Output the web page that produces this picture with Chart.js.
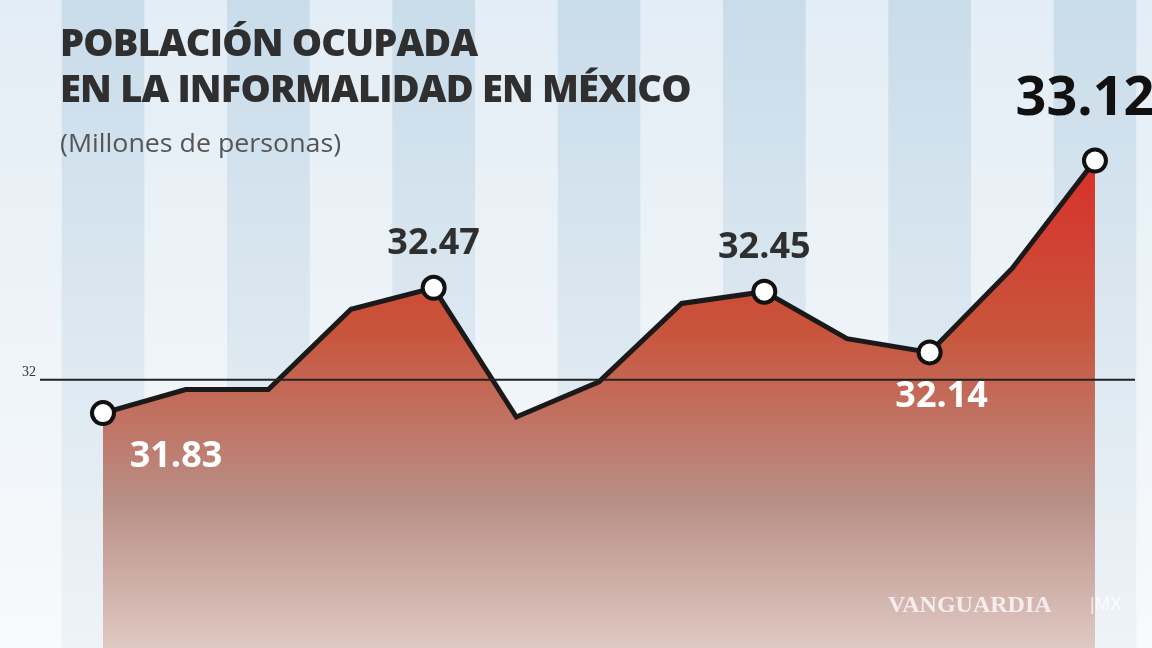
<!DOCTYPE html>
<html><head><meta charset="utf-8">
<script src="https://cdn.jsdelivr.net/npm/chart.js@4/dist/chart.umd.min.js"></script>
<style>html,body{margin:0;padding:0;background:#fff;overflow:hidden}
#wrap{position:relative;width:1152px;height:648px}
.t{position:absolute;left:60px;font-family:"Open Sans",sans-serif;font-weight:800;color:#2f2f2f;font-size:37px;letter-spacing:-0.8px;transform:scaleX(1.03);transform-origin:left}
</style></head><body>
<div id="wrap"><canvas id="c" width="1152" height="648"></canvas>
<div class="t" style="top:16px">POBLACIÓN OCUPADA</div>
<div class="t" style="top:62px">EN LA INFORMALIDAD EN MÉXICO</div>
<div class="t" style="top:124px;font-weight:400;font-size:26px;color:#555;letter-spacing:0">(Millones de personas)</div>
</div>
<script>
const periods=[0,1,2,3,4,5,6,7,8,9,10,11,12];
const values=[31.83,31.95,31.95,32.36,32.47,31.81,31.99,32.39,32.45,32.21,32.14,32.57,33.12];
const labeled=[0,4,8,10,12];
const refValue=32;
const labelStyle={0:['#fff',0,1,36],4:['#2f2f2f',0,-1,36],8:['#2f2f2f',0,-1,36],10:['#fff',0,1,36],12:['#111',0,-1,54]};
const bgPlugin={id:'bg',beforeDatasetsDraw(ch){const {ctx,scales:{x,y}}=ch;ctx.save();
 const g=ctx.createLinearGradient(0,0,0,648);g.addColorStop(0,'#c9dcea');g.addColorStop(1,'#eef3f7');
 const g2=ctx.createLinearGradient(0,0,0,648);g2.addColorStop(0,'#e3edf5');g2.addColorStop(1,'#f8fafc');
 for(let i=-1;i<=13;i++){const l=x.getPixelForValue(i-0.5),r=x.getPixelForValue(i+0.5);ctx.fillStyle=(i%2===0)?g:g2;ctx.fillRect(l,0,r-l+1,648);}
 ctx.restore();},
 afterDatasetsDraw(ch){const {ctx,scales:{x,y}}=ch;ctx.save();
 const py=y.getPixelForValue(refValue);ctx.strokeStyle='#222';ctx.lineWidth=2;ctx.beginPath();ctx.moveTo(40,py);ctx.lineTo(1135,py);ctx.stroke();
 ctx.fillStyle='#333';ctx.font='14px "Liberation Serif"';ctx.textAlign='left';ctx.fillText('32',22,py-4);
 const m=ch.getDatasetMeta(1);
 labeled.forEach(i=>{const p=m.data[i];const s=labelStyle[i];ctx.fillStyle=s[0];ctx.font='bold '+s[3]+'px "Open Sans"';ctx.textAlign='center';ctx.textBaseline=s[2]>0?'top':'bottom';
  let xx=p.x+(i===0?73:i===12?-10:0)+(i===10?12:0);ctx.fillText(values[i].toFixed(2),xx,p.y+s[2]*(i===12?34:26));});
 ctx.font='bold 24px "Liberation Serif"';ctx.fillStyle='rgba(255,255,255,0.75)';ctx.textAlign='left';ctx.textBaseline='alphabetic';ctx.fillText('VANGUARDIA',888,612);
 ctx.font='18px "Liberation Sans"';ctx.fillText('|MX',1090,610);
 ctx.restore();}};
const ctx=document.getElementById('c').getContext('2d');
const fillG=ctx.createLinearGradient(0,160,0,648);fillG.addColorStop(0,'#d8302a');fillG.addColorStop(0.35,'#c9543c');fillG.addColorStop(0.7,'#b88f86');fillG.addColorStop(1,'#e0c9c3');
const pts=periods.map((p,i)=>({x:p,y:values[i]}));
new Chart(ctx,{type:'line',data:{datasets:[
 {data:pts,fill:'start',backgroundColor:fillG,borderWidth:0,pointRadius:0,tension:0,order:2},
 {data:pts,fill:false,borderColor:'#1a1a1a',borderWidth:5,tension:0,order:1,
  pointRadius:periods.map(i=>labeled.includes(i)?11:0),pointBackgroundColor:'#fff',pointBorderColor:'#111',pointBorderWidth:4}]},
 options:{responsive:false,animation:false,layout:{padding:0,autoPadding:false},plugins:{legend:{display:false},tooltip:{enabled:false}},
  scales:{x:{type:'linear',min:-1.246,max:12.69,display:false},y:{min:30.63,max:33.94,display:false}}},
 plugins:[bgPlugin]});
</script></body></html>
